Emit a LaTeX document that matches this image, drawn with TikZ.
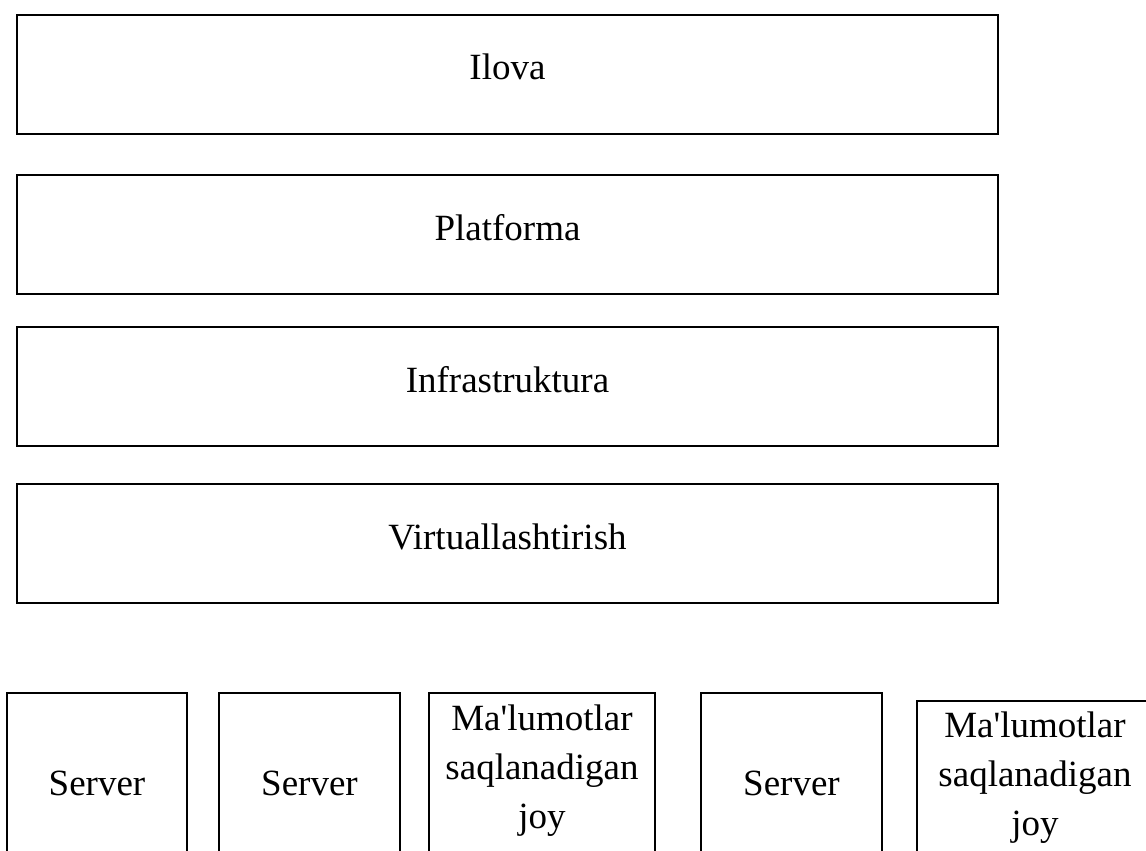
\documentclass[tikz,border=0pt]{standalone}
\usepackage{fontspec}
\setmainfont{Liberation Serif}[Ligatures=TeXOff]
\begin{document}
\begin{tikzpicture}[x=1pt,y=-1pt,
  box/.style={draw, line width=1.8pt, inner sep=0pt, outer sep=0pt, anchor=north west},
  layer/.style={box, minimum width=981pt, minimum height=119pt},
  lbl/.style={font=\fontsize{37}{49}\selectfont, align=center, anchor=base, inner sep=0pt}]
\useasboundingbox (0,0) rectangle (1146,851);
\clip (0,0) rectangle (1146,851);
% layers
\node[layer] (ilova) at (17,15) {};
\node[layer] (platforma) at (17,175) {};
\node[layer] (infra) at (17,327) {};
\node[layer] (virt) at (17,484) {};
\node[lbl] (ilovaT) at (507.5,80) {Ilova};
\node[lbl] (platformaT) at (507.5,240) {Platforma};
\node[lbl] (infraT) at (507.5,392) {Infrastruktura};
\node[lbl] (virtT) at (507.5,549) {Virtuallashtirish};
% bottom boxes
\node[box, minimum width=180pt, minimum height=220pt] (s1) at (7,693) {};
\node[box, minimum width=181pt, minimum height=220pt] (s2) at (219,693) {};
\node[box, minimum width=226pt, minimum height=220pt] (m1) at (429,693) {};
\node[box, minimum width=181pt, minimum height=220pt] (s3) at (701,693) {};
\node[box, minimum width=236pt, minimum height=220pt] (m2) at (917,701) {};
\node[lbl] (s1T) at (97,795) {Server};
\node[lbl] (s2T) at (309.5,795) {Server};
\node[lbl] (s3T) at (791.5,795) {Server};
\node[lbl] (m1T) at (542,828) {Ma'lumotlar\\saqlanadigan\\joy};
\node[lbl] (m2T) at (1035,835) {Ma'lumotlar\\saqlanadigan\\joy};
\end{tikzpicture}
\end{document}
